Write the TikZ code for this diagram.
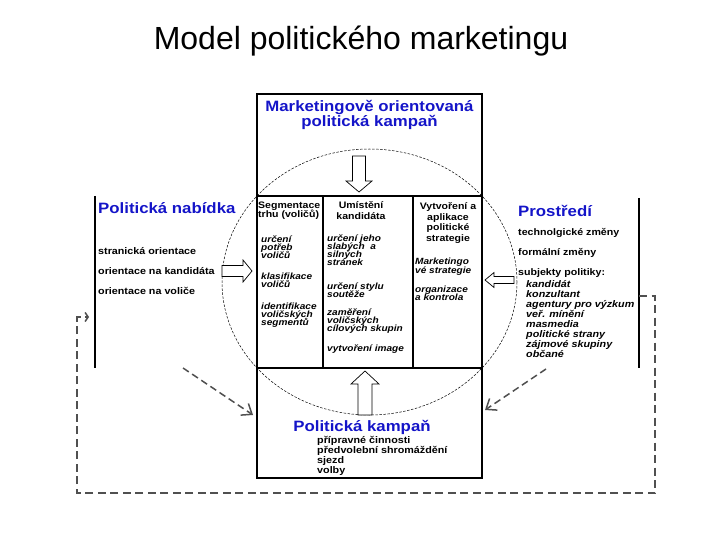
\documentclass[tikz,border=0pt]{standalone}
\usepackage{fontspec}
\setmainfont{Liberation Sans}
\newfontfamily\siroke[FakeStretch=1.12]{Liberation Sans}
\usetikzlibrary{arrows.meta}

\definecolor{modra}{RGB}{20,20,200}
\definecolor{seda}{RGB}{80,80,80}
\newcommand{\tesne}{\lineskiplimit -10pt\relax}

% u viceradkovych uzlu je "base" na poslednim radku
\tikzset{
  ramec/.style={line width=1.2pt},
  nadpis/.style={font=\siroke\bfseries\fontsize{15}{15}\selectfont\tesne, text=modra, inner sep=0pt},
  seznam/.style={font=\siroke\bfseries\fontsize{9.6}{10}\selectfont\tesne, align=left, anchor=base west, inner sep=0pt},
  hlava/.style={font=\siroke\bfseries\fontsize{9.4}{10}\selectfont\tesne, align=center, anchor=base, inner sep=0pt},
  kurziva/.style={font=\siroke\bfseries\itshape\fontsize{9}{8}\selectfont\tesne, align=left, anchor=base west, inner sep=0pt},
  sipka/.style={draw, fill=white, line width=0.7pt},
  carkovana/.style={seda, line width=1.5pt, dash pattern=on 7pt off 4pt, -{Straight Barb[length=9pt,width=14pt]}},
}

\begin{document}
\begin{tikzpicture}[x=1pt, y=-1pt]
  \useasboundingbox (0,0) rectangle (720,540);

  \node[font=\fontsize{32}{34}\selectfont, anchor=base] (titulek) at (361,50) {Model politického marketingu};

  % ramecky
  \draw[ramec] (257,94) rectangle (482,196);
  \draw[ramec] (257,196) rectangle (482,368);
  \draw[ramec] (323,196) -- (323,368);
  \draw[ramec] (413,196) -- (413,368);
  \draw[ramec] (257,368) rectangle (482,478);
  \draw[ramec] (95,196) -- (95,368);
  \draw[ramec] (639,198) -- (639,368);

  % elipsa
  \coordinate (stred) at (369.5,282);
  \draw[line width=0.5pt, dash pattern=on 2.5pt off 1.5pt] (stred) ellipse [x radius=147.5, y radius=133];

  % blokove sipky
  \draw[sipka] (352.5,156) -- (365.5,156) -- (365.5,181) -- (372,181) -- (359,192) -- (346,181) -- (352.5,181) -- cycle;
  \draw[sipka] (358,415) -- (372,415) -- (372,384) -- (379,384) -- (365,371) -- (351,384) -- (358,384) -- cycle;
  \draw[sipka] (222,265.5) -- (243,265.5) -- (243,260) -- (252,271) -- (243,282) -- (243,276.5) -- (222,276.5) -- cycle;
  \draw[sipka] (514,276.5) -- (494,276.5) -- (494,272.5) -- (485,280) -- (494,287.5) -- (494,283.5) -- (514,283.5) -- cycle;

  % horni blok
  \node[nadpis, align=center, anchor=base] (orientovana) at (369.5,126.5)
    {Marketingově orientovaná\\politická kampaň};

  % politicka nabidka
  \node[nadpis, anchor=base west] (nabidka) at (98,214) {Politická nabídka};
  \node[seznam, font=\siroke\bfseries\fontsize{9.6}{20}\selectfont\tesne] (nabidkaSeznam) at (98,294.5)
    {stranická orientace\\orientace na kandidáta\\orientace na voliče};

  % sloupce
  \node[hlava, align=left, anchor=base west, font=\siroke\bfseries\fontsize{9.4}{9}\selectfont\tesne] (segmentace) at (258,217.5)
    {Segmentace\\trhu (voličů)};
  \node[kurziva] (segmentaceSeznam) at (261,325.6)
    {určení\\potřeb\\voličů\\[12.7pt]klasifikace\\voličů\\[14.4pt]identifikace\\voličských\\segmentů};

  \node[hlava] (umisteni) at (361,219) {Umístění\\kandidáta};
  \node[kurziva] (umisteniSeznam) at (327,351.9)
    {určení jeho\\slabých\ \ a\\silných\\stránek\\[16pt]určení stylu\\soutěže\\[9.7pt]zaměření\\voličských\\cílových skupin\\[12.7pt]vytvoření image};

  \node[hlava, font=\siroke\bfseries\fontsize{9.4}{10.5}\selectfont\tesne] (strategie) at (448,241)
    {Vytvoření a\\aplikace\\politické\\strategie};
  \node[kurziva, font=\siroke\bfseries\itshape\fontsize{9}{8.6}\selectfont\tesne] (strategieSeznam) at (415,300.8)
    {Marketingo\\vé strategie\\[10.5pt]organizace\\a kontrola};

  % prostredi
  \node[nadpis, anchor=base west] (prostredi) at (518,216) {Prostředí};
  \node[seznam, font=\siroke\bfseries\fontsize{9.5}{20}\selectfont\tesne] (prostrediSeznam) at (518,275.5)
    {technolgické změny\\formální změny\\subjekty politiky:};
  \node[seznam, font=\siroke\bfseries\itshape\fontsize{9.6}{10}\selectfont\tesne] (subjekty) at (526,357.5)
    {kandidát\\konzultant\\agentury pro výzkum\\veř. mínění\\masmedia\\politické strany\\zájmové skupiny\\občané};

  % politicka kampan
  \node[nadpis, anchor=base] (kampan) at (362,431) {Politická kampaň};
  \node[seznam] (kampanSeznam) at (317,473.5)
    {přípravné činnosti\\předvolební shromáždění\\sjezd\\volby};

  % prerusovane sipky
  \coordinate (nabidkaDole) at (183,368);
  \coordinate (kampanVlevo) at (253,415);
  \coordinate (prostrediDole) at (546,369);
  \coordinate (kampanVpravo) at (485,410);
  \draw[carkovana] (nabidkaDole) -- (kampanVlevo);
  \draw[carkovana] (prostrediDole) -- (kampanVpravo);

  % zpetna vazba
  \coordinate (prostrediBok) at (639,296);
  \coordinate (nabidkaBok) at (89,317);
  \draw[seda, line width=1.5pt, dash pattern=on 8pt off 4.5pt, -{Straight Barb[length=3pt,width=9pt]}]
    (prostrediBok) -- (655,296) -- (655,493) -- (77,493) -- (77,317) -- (nabidkaBok);
\end{tikzpicture}
\end{document}
